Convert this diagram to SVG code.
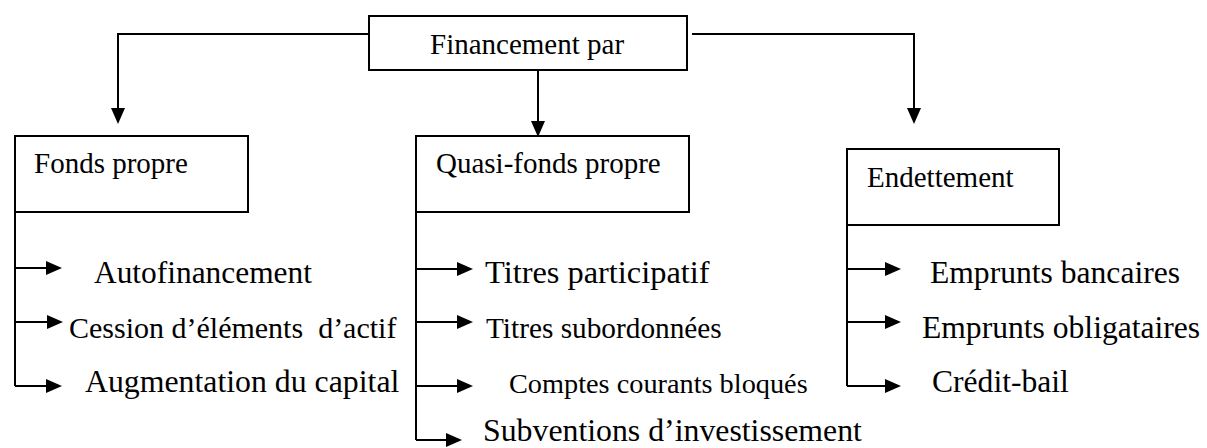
<svg xmlns="http://www.w3.org/2000/svg" width="1207" height="448" viewBox="0 0 1207 448">
  <style>
    .box { fill: #ffffff; stroke: #000000; stroke-width: 2; }
    .line { fill: none; stroke: #000000; stroke-width: 2; }
    text { font-family: "Liberation Serif", "Times New Roman", serif; fill: #000000; white-space: pre; }
    .lbl { font-size: 29px; }
    .item { font-size: 31.6px; }
  </style>
  <defs>
    <marker id="arrow" viewBox="0 0 16 14" markerWidth="16" markerHeight="14" refX="0" refY="7" orient="auto" markerUnits="userSpaceOnUse">
      <path d="M0,0 L16,7 L0,14 Z" fill="#000000"/>
    </marker>
  </defs>
  <rect x="0" y="0" width="1207" height="448" fill="#ffffff"/>

  <g id="connectors">
    <path class="line" d="M369,34 H118 V108" marker-end="url(#arrow)"/>
    <path class="line" d="M538,71 V121" marker-end="url(#arrow)"/>
    <path class="line" d="M692,34 H914 V108" marker-end="url(#arrow)"/>
    <path class="line" d="M15,212 V386"/>
    <path class="line" d="M15,268 H46" marker-end="url(#arrow)"/>
    <path class="line" d="M15,322 H47" marker-end="url(#arrow)"/>
    <path class="line" d="M15,386 H46" marker-end="url(#arrow)"/>
    <path class="line" d="M416,212 V440"/>
    <path class="line" d="M416,269 H457" marker-end="url(#arrow)"/>
    <path class="line" d="M416,322 H457" marker-end="url(#arrow)"/>
    <path class="line" d="M416,386 H457" marker-end="url(#arrow)"/>
    <path class="line" d="M416,440 H446" marker-end="url(#arrow)"/>
    <path class="line" d="M847,225 V386"/>
    <path class="line" d="M847,269 H885" marker-end="url(#arrow)"/>
    <path class="line" d="M847,322 H885" marker-end="url(#arrow)"/>
    <path class="line" d="M847,386 H885" marker-end="url(#arrow)"/>
  </g>

  <g id="node-financement">
    <rect class="box" x="369" y="16" width="318" height="54"/>
    <text class="lbl" x="430" y="54">Financement par</text>
  </g>
  <g id="node-fonds-propre">
    <rect class="box" x="15" y="136" width="233" height="76"/>
    <text class="lbl" x="34" y="173">Fonds propre</text>
  </g>
  <g id="node-quasi-fonds-propre">
    <rect class="box" x="416" y="136" width="273" height="76"/>
    <text class="lbl" x="436" y="173">Quasi-fonds propre</text>
  </g>
  <g id="node-endettement">
    <rect class="box" x="847" y="149" width="212" height="76"/>
    <text class="lbl" x="867" y="187">Endettement</text>
  </g>

  <g id="item-autofinancement"><text class="item" x="94" y="283" style="font-size:31.4px">Autofinancement</text></g>
  <g id="item-cession"><text class="item" x="69" y="338" style="font-size:30px">Cession d’éléments  d’actif</text></g>
  <g id="item-augmentation"><text class="item" x="85" y="392" style="font-size:31.8px">Augmentation du capital</text></g>

  <g id="item-titres-participatif"><text class="item" x="485" y="283" style="font-size:32.4px">Titres participatif</text></g>
  <g id="item-titres-subordonnees"><text class="item" x="486" y="338" style="font-size:29.3px">Titres subordonnées</text></g>
  <g id="item-comptes-courants"><text class="item" x="509" y="393" style="font-size:28.3px">Comptes courants bloqués</text></g>
  <g id="item-subventions"><text class="item" x="483" y="441" style="font-size:31.8px">Subventions d’investissement</text></g>

  <g id="item-emprunts-bancaires"><text class="item" x="930" y="283">Emprunts bancaires</text></g>
  <g id="item-emprunts-obligataires"><text class="item" x="922" y="338">Emprunts obligataires</text></g>
  <g id="item-credit-bail"><text class="item" x="932" y="392">Crédit-bail</text></g>
</svg>
